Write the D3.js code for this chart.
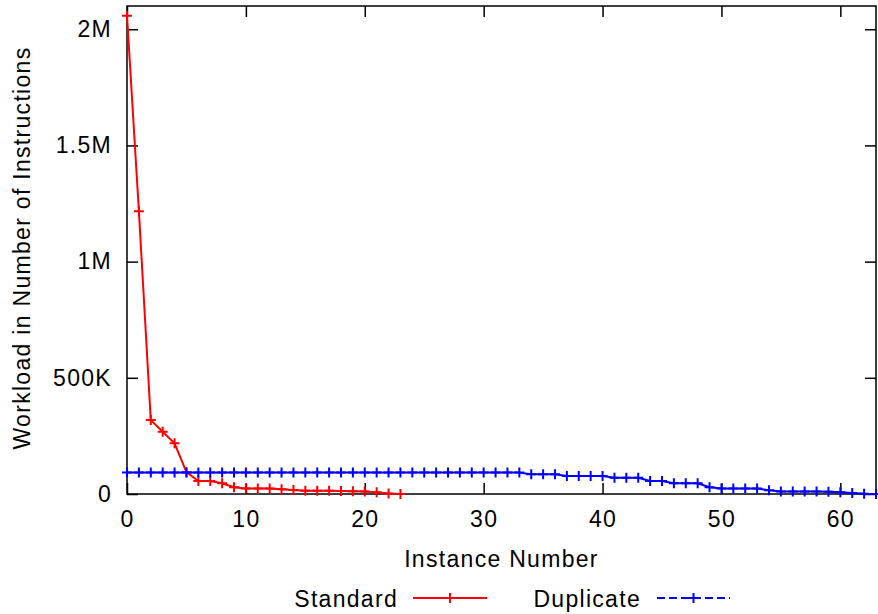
<!DOCTYPE html>
<html>
<head>
<meta charset="utf-8">
<script src="https://cdn.jsdelivr.net/npm/d3@7/dist/d3.min.js"></script>
<style>
  body { margin: 0; background: #fff; }
  svg { display: block; }
  text { font-family: "Liberation Sans", Arial, Helvetica, sans-serif; font-size: 23px; letter-spacing: 1.3px; fill: #000; }
</style>
</head>
<body>
<div id="chart"></div>
<script>

// Workload per instance (number of instructions)
const standardWorkload = [
  2058000, 1217000, 318000, 268000, 218000, 94000, 56000, 56000, 46000, 29000,
  24000, 24000, 24000, 20000, 17000, 14000, 14000, 14000, 13000, 12000,
  11000, 7000, 2000, 0
];
const duplicateWorkload = [
  93000, 93000, 93000, 93000, 93000, 93000, 93000, 93000, 93000, 93000,
  93000, 93000, 93000, 93000, 93000, 93000, 93000, 93000, 93000, 93000,
  93000, 93000, 92000, 92000, 92000, 92000, 92000, 92000, 92000, 92000,
  92000, 92000, 92000, 92000, 85000, 85000, 85000, 77000, 77000, 77000,
  77000, 70000, 70000, 70000, 56000, 56000, 46000, 46000, 46000, 29000,
  24000, 24000, 24000, 24000, 16000, 11000, 11000, 11000, 11000, 10000,
  7000, 4000, 1000, 0
];
const seriesNames = ["Standard", "Duplicate"];
const seriesColors = ["#ff0000", "#0000ff"];
const xTicks = [0, 10, 20, 30, 40, 50, 60];
const yTicks = [0, 500000, 1000000, 1500000, 2000000];
const yTickLabels = ["0", "500K", "1M", "1.5M", "2M"];

const width = 878;
const height = 614;
const margin = { top: 6, right: 2, bottom: 120, left: 127 };
const innerWidth = width - margin.left - margin.right;
const innerHeight = height - margin.top - margin.bottom;

const svg = d3.select("#chart")
  .append("svg")
    .attr("width", width)
    .attr("height", height);

const innerChart = svg
  .append("g")
    .attr("transform", `translate(${margin.left}, ${margin.top})`);

const xScale = d3.scaleLinear()
  .domain([0, 63])
  .range([0, innerWidth]);

const yScale = d3.scaleLinear()
  .domain([0, 2100000])
  .range([innerHeight, 0]);

const tickLen = 11;
const styleAxis = (g) => {
  g.select(".domain").remove();
  g.selectAll(".tick line").attr("stroke", "#000").attr("stroke-width", 1.5);
  g.selectAll(".tick text").style("font-size", "23px").style("font-family", null);
};
const noLabels = (g) => g.selectAll(".tick text").remove();

// Axes, ticks point inward and are mirrored on the opposite side
innerChart
  .append("g")
    .attr("transform", `translate(0, ${innerHeight})`)
    .call(d3.axisBottom(xScale).tickValues(xTicks).tickSizeInner(-tickLen).tickSizeOuter(0).tickPadding(17))
    .call(styleAxis);

innerChart
  .append("g")
    .call(d3.axisTop(xScale).tickValues(xTicks).tickSizeInner(-tickLen).tickSizeOuter(0))
    .call(styleAxis)
    .call(noLabels);

innerChart
  .append("g")
    .call(d3.axisLeft(yScale).tickValues(yTicks).tickSizeInner(-tickLen).tickSizeOuter(0).tickPadding(15)
      .tickFormat((d, i) => yTickLabels[i]))
    .call(styleAxis);

innerChart
  .append("g")
    .attr("transform", `translate(${innerWidth}, 0)`)
    .call(d3.axisRight(yScale).tickValues(yTicks).tickSizeInner(-tickLen).tickSizeOuter(0))
    .call(styleAxis)
    .call(noLabels);

innerChart
  .append("rect")
    .attr("width", innerWidth)
    .attr("height", innerHeight)
    .attr("fill", "none")
    .attr("stroke", "#000")
    .attr("stroke-width", 1.5);

// Axis titles
svg
  .append("text")
    .attr("x", margin.left + innerWidth / 2)
    .attr("y", 567)
    .attr("text-anchor", "middle")
    .text("Instance Number");

svg
  .append("text")
    .attr("transform", `translate(30, ${margin.top + innerHeight / 2 - 2}) rotate(-90)`)
    .attr("text-anchor", "middle")
    .text("Workload in Number of Instructions");

// Series
const plus = (x, y, s) => `M${x - s},${y}h${2 * s}M${x},${y - s}v${2 * s}`;

const line = d3.line()
  .x((d, i) => xScale(i))
  .y(d => yScale(d));

[standardWorkload, duplicateWorkload].forEach((values, s) => {
  innerChart
    .append("path")
      .datum(values)
      .attr("d", line)
      .attr("fill", "none")
      .attr("stroke", seriesColors[s])
      .attr("stroke-width", 2)
      .attr("stroke-linejoin", "round");

  innerChart
    .append("g")
    .selectAll("path")
    .data(values)
    .join("path")
      .attr("d", (d, i) => plus(xScale(i), yScale(d), 5))
      .attr("stroke", seriesColors[s])
      .attr("stroke-width", 2);
});

// Legend
const legendY = 598;
const legend = [
  { name: seriesNames[0], color: seriesColors[0], textEnd: 398, x1: 413, x2: 487, dash: null },
  { name: seriesNames[1], color: seriesColors[1], textEnd: 641, x1: 657, x2: 730, dash: "8,4" }
];

const items = svg
  .selectAll(".legend-item")
  .data(legend)
  .join("g")
    .attr("class", "legend-item");

items
  .append("text")
    .attr("x", d => d.textEnd)
    .attr("y", legendY + 9)
    .attr("text-anchor", "end")
    .text(d => d.name);

items
  .append("line")
    .attr("x1", d => d.x1)
    .attr("x2", d => d.x2)
    .attr("y1", legendY)
    .attr("y2", legendY)
    .attr("stroke", d => d.color)
    .attr("stroke-width", 2)
    .attr("stroke-dasharray", d => d.dash);

items
  .append("path")
    .attr("d", d => plus((d.x1 + d.x2) / 2, legendY, 5))
    .attr("stroke", d => d.color)
    .attr("stroke-width", 2);

</script>
</body>
</html>
